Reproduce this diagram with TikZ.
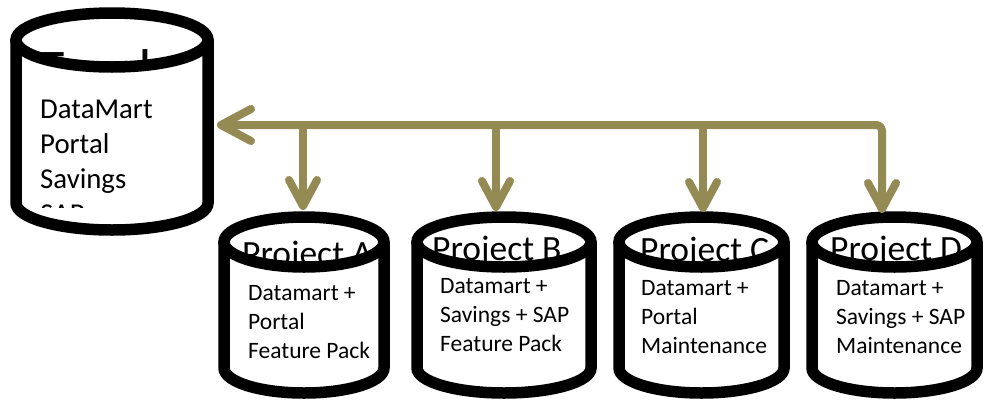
\documentclass[tikz,border=0pt]{standalone}
\usepackage{fontspec}
\setmainfont{Carlito}
\usetikzlibrary{arrows.meta}
\definecolor{olivebr}{RGB}{148,138,84}
\tikzset{
  cylline/.style={line width=11.5pt, draw=black},
  conn/.style={line width=8pt, draw=olivebr, line cap=round, line join=round},
  hbarb/.tip={Straight Barb[round, length=30pt, width=32pt]},
  vbarb/.tip={Straight Barb[round, length=26pt, width=28pt]},
  bigtxt/.style={inner sep=0pt, anchor=base west, font=\fontsize{28.8}{35}\selectfont},
  smalltxt/.style={inner sep=0pt, anchor=base west, font=\fontsize{23.5}{29}\selectfont},
  titletxt/.style={inner sep=0pt, anchor=base west, font=\fontsize{35.5}{42}\selectfont},
  bigtitle/.style={inner sep=0pt, anchor=base west, font=\fontsize{56}{66}\selectfont},
}
% #1 cx, #2 top ellipse centre y, #3 bottom ellipse centre y, #4 rx, #5 ry
\newcommand\cylfill[5]{%
  \fill[white] (#1-#4,#2) rectangle (#1+#4,#3);
  \fill[white] (#1,#3) ellipse [x radius=#4pt, y radius=#5pt];
  \fill[white] (#1,#2) ellipse [x radius=#4pt, y radius=#5pt];
}
\newcommand\cyldraw[5]{%
  \draw[cylline] (#1-#4,#2) -- (#1-#4,#3) arc [start angle=180, end angle=360, x radius=#4pt, y radius=#5pt] -- (#1+#4,#2);
  \draw[cylline] (#1,#2) ellipse [x radius=#4pt, y radius=#5pt];
}
\begin{document}
\begin{tikzpicture}[x=1pt, y=-1pt]
\useasboundingbox[fill=white] (0,0) rectangle (988,402);

% ---------- Trunk cylinder ----------
\cylfill{112}{40}{203}{96}{27}
\begin{scope}
  \clip (112,40) ellipse [x radius=96pt, y radius=27pt];
  \node[bigtitle] (trunk-title) at (37,88) {Trunk};
\end{scope}
\begin{scope}
  \clip (16,70) rectangle (208,207);
  \node[bigtxt] (trunk-l1) at (40,118) {DataMart};
  \node[bigtxt] (trunk-l2) at (40,153) {Portal};
  \node[bigtxt] (trunk-l3) at (40,188) {Savings};
  \node[bigtxt] (trunk-l4) at (40,223) {SAP};
\end{scope}
\cyldraw{112}{40}{203}{96}{27}

% ---------- Project A ----------
\cylfill{304}{242}{368}{80}{25}
\begin{scope}
  \clip (304,242) ellipse [x radius=80pt, y radius=25pt];
  \node[titletxt] (pa-title) at (242,265.5) {Project A};
\end{scope}
\begin{scope}
  \clip (224,268) rectangle (384,359);
  \node[smalltxt] (pa-l1) at (248,300) {Datamart +};
  \node[smalltxt] (pa-l2) at (248,329) {Portal};
  \node[smalltxt] (pa-l3) at (248,358) {Feature Pack};
\end{scope}
\cyldraw{304}{242}{368}{80}{25}

% ---------- Project B ----------
\cylfill{504}{242}{368}{87}{25}
\begin{scope}
  \clip (504,242) ellipse [x radius=87pt, y radius=25pt];
  \node[titletxt] (pb-title) at (432,260.5) {Project B};
\end{scope}
\begin{scope}
  \clip (417,268) rectangle (591,359);
  \node[smalltxt] (pb-l1) at (440,293) {Datamart +};
  \node[smalltxt] (pb-l2) at (440,322) {Savings + SAP};
  \node[smalltxt] (pb-l3) at (440,351) {Feature Pack};
\end{scope}
\cyldraw{504}{242}{368}{87}{25}

% ---------- Project C ----------
\cylfill{701.5}{242}{368}{82.5}{25}
\begin{scope}
  \clip (701.5,242) ellipse [x radius=82.5pt, y radius=25pt];
  \node[titletxt] (pc-title) at (640,261.5) {Project C};
\end{scope}
\begin{scope}
  \clip (619,268) rectangle (784,359);
  \node[smalltxt] (pc-l1) at (641,295) {Datamart +};
  \node[smalltxt] (pc-l2) at (641,324) {Portal};
  \node[smalltxt] (pc-l3) at (641,353) {Maintenance};
\end{scope}
\cyldraw{701.5}{242}{368}{82.5}{25}

% ---------- Project D ----------
\cylfill{894.5}{242}{368}{82.5}{25}
\begin{scope}
  \clip (894.5,242) ellipse [x radius=82.5pt, y radius=25pt];
  \node[titletxt] (pd-title) at (830,260) {Project D};
\end{scope}
\begin{scope}
  \clip (812,268) rectangle (977,359);
  \node[smalltxt] (pd-l1) at (836,295) {Datamart +};
  \node[smalltxt] (pd-l2) at (836,324) {Savings + SAP};
  \node[smalltxt] (pd-l3) at (836,353) {Maintenance};
\end{scope}
\cyldraw{894.5}{242}{368}{82.5}{25}

% ---------- connectors ----------
\coordinate (trunk-e) at (217,125);
\coordinate (pa-n) at (303,210);
\coordinate (pb-n) at (496,211);
\coordinate (pc-n) at (703,212);
\coordinate (pd-n) at (882,213);

\draw[conn, rounded corners=6pt, hbarb-vbarb] (trunk-e) -- (trunk-e -| pd-n) -- (pd-n);
\draw[conn, -vbarb] (trunk-e -| pa-n) -- (pa-n);
\draw[conn, -vbarb] (trunk-e -| pb-n) -- (pb-n);
\draw[conn, -vbarb] (trunk-e -| pc-n) -- (pc-n);
\end{tikzpicture}
\end{document}
